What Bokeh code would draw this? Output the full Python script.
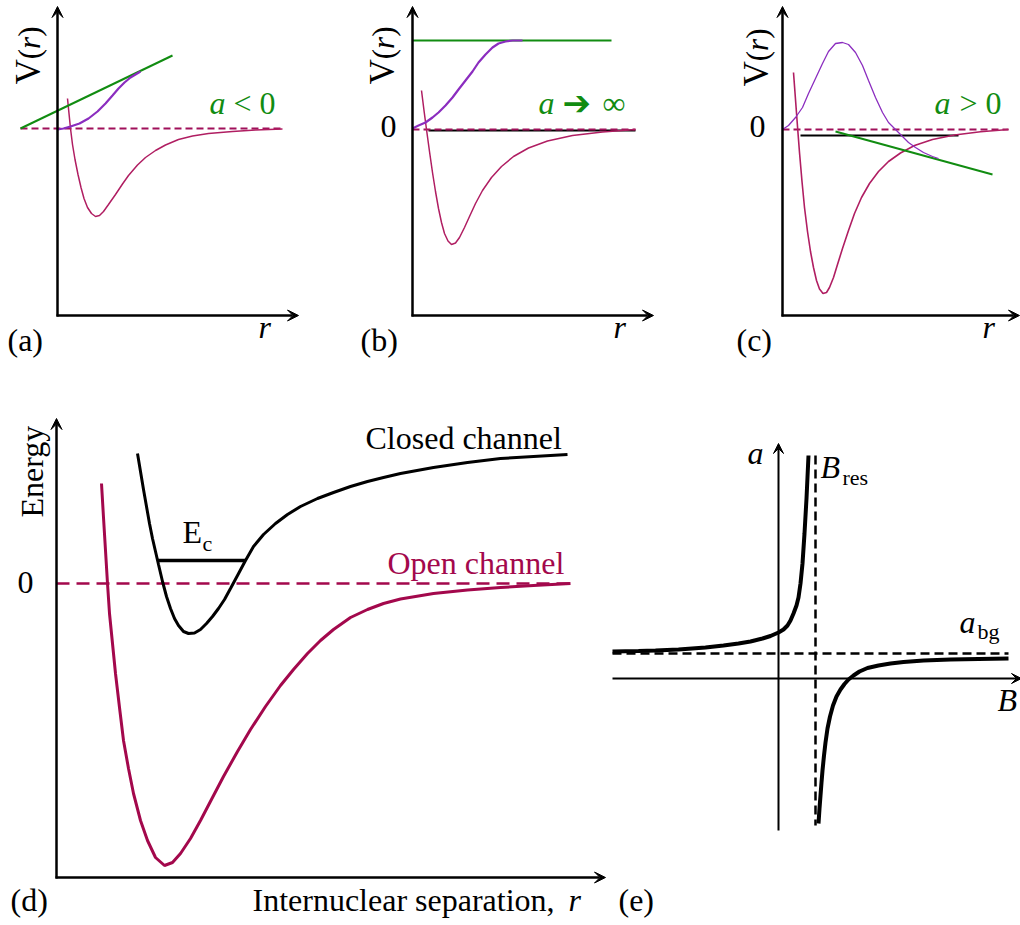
import math
from bokeh.plotting import figure
from bokeh.models import Range1d, Arrow, VeeHead, Label
from bokeh.layouts import column, row
from bokeh.embed import file_html
from bokeh.resources import INLINE

# ---------------- data ----------------
# Panels (a)-(c): r measured from the V axis, V measured from the threshold 0
# (a)  a < 0
a_open_r = [10, 11.5, 13, 15, 17.5, 20.5, 23.5, 26.5, 30, 34, 38, 42, 46, 51, 58, 65, 71, 80, 88, 98, 108, 121, 135, 151, 175, 198, 225]
a_open_V = [30, 15, 0, -16, -31, -46, -59, -70, -79, -85, -88, -87, -83, -76, -66, -55.5, -47, -36.5, -29, -22, -16.5, -11, -7.5, -5, -3, -1.5, -0.5]
a_wave_r = [0, 6, 13, 22, 31, 40, 48, 55, 61, 67, 73, 78, 83]
a_wave_V = [-1, 0, 2, 5, 10, 17, 25, 33, 40, 46, 51, 54, 57]
a_tangent_r = [-37, 115]
a_tangent_V = [0, 73]
a_thresh_r = [-37, 225]
a_thresh_V = [0, 0]

# (b)  a -> infinity
b_open_r = [9, 11.5, 14, 17, 20, 23, 26, 29, 32, 35.5, 39, 43, 47, 52, 57, 63, 70, 79, 89, 101, 116, 135, 160, 190, 223]
b_open_V = [39, 19, 0, -22, -43, -62, -79, -93, -104, -111.5, -115, -113.5, -108, -98, -87, -74, -61, -48, -37, -27, -18.5, -11.5, -6, -2.5, 0]
b_wave_r = [0, 6, 13, 20, 26, 33, 40, 46, 53, 60, 66, 73, 80, 86, 93, 100, 110]
b_wave_V = [1, 4, 7, 12, 17, 24, 32, 40, 49, 58, 67, 75, 82, 86, 88, 89, 89]
b_tangent_r = [0, 199]
b_tangent_V = [89, 89]
b_bound_r = [16, 223]
b_bound_V = [-1, -1]
b_thresh_r = [0, 223]
b_thresh_V = [0, 0]

# (c)  a > 0
c_open_r = [11, 13, 15, 17, 19.5, 22, 25, 28, 31, 34, 37, 40.5, 44, 47, 51, 55, 60, 66, 72, 79, 87, 96, 106, 118, 132, 150, 172, 198, 226]
c_open_V = [57, 30, 3, -23, -52, -78, -102, -122, -138, -151, -159.5, -164, -163, -158, -148, -135, -119, -101, -84, -68, -54, -42, -32, -23.5, -16, -10, -5.5, -2.2, 0]
c_wave_r = [0, 6, 13, 20, 26, 33, 40, 46, 53, 60, 66, 73, 80, 86, 93, 100, 106, 113, 120, 126, 133, 141, 150, 156]
c_wave_V = [0, 4, 12, 22, 36, 51, 66, 78, 86, 87, 85, 77, 64, 49, 32, 17, 7, 0, -7, -13, -18, -23, -27, -29]
c_tangent_r = [53, 210]
c_tangent_V = [-2, -45]
c_bound_r = [18, 176]
c_bound_V = [-6, -6]
c_thresh_r = [0, 226]
c_thresh_V = [0, 0]

# (d)  two-channel picture (energy vs internuclear separation)
d_closed_r = [81, 84, 87, 90, 93, 96, 99, 102, 106, 110, 114, 118, 122, 127, 132, 138, 144, 150, 156, 162, 168,
              174, 181, 189, 197, 207, 219, 231, 244, 261, 277, 294, 311, 327, 344, 377, 411, 444, 477, 511]
d_closed_V = [130, 112, 94, 77, 60, 45, 32, 19, 2, -13, -25, -35, -42, -48, -50, -49.5, -46, -40, -33, -25, -16,
              -5, 8, 23, 37, 49, 60, 69, 77, 85, 91, 97, 102, 106, 110, 116, 121, 125, 127, 129]
d_open_r = [45, 47, 49, 51, 53, 56, 59, 63, 67, 72, 77, 84, 91, 99, 108, 116, 124, 134, 144, 156, 167, 181, 194,
            209, 224, 237, 251, 264, 277, 294, 311, 327, 344, 377, 411, 444, 477, 514]
d_open_V = [100, 66, 33, 0, -30, -60, -90, -124, -157, -185, -210, -237, -257, -274, -282, -279, -270, -255, -237,
            -214, -193, -168, -146, -123, -102, -86, -70, -57, -46, -34, -26, -20, -15.5, -10, -6.5, -4, -2, 0]
d_level_r = [101, 189]
d_level_V = [23, 23]
d_thresh_r = [0, 516]
d_thresh_V = [0, 0]

# (e)  scattering length a versus field B
e_left_B = [-166, -140, -123, -100, -73, -55, -40, -28, -16, -8, 0, 5, 9, 12, 15, 18, 20, 22, 24, 26, 28, 30]
e_left_a = [27, 27.5, 28, 29, 31, 33, 35, 37, 40, 42.5, 46, 49, 53, 58, 65, 73, 81, 95, 115, 145, 180, 223]
e_right_B = [40, 41, 42, 43, 44, 45.5, 47, 49, 51.5, 54.5, 58, 62, 66, 70, 75, 81, 89, 100, 112, 125, 145, 172, 200, 230]
e_right_a = [-145, -130, -117, -104, -92, -77, -64, -50, -38, -27, -18, -11, -5.5, -1, 3, 7, 10.5, 13, 15, 16.5, 18, 19, 19.5, 20]
e_res_B = [37, 37]
e_res_a = [223, -147]
e_bg_B = [-166, 230]
e_bg_a = [25, 25]

# ---------------- styling ----------------
SERIF = "Liberation Serif"
FS = 32
K_BASE = 0.34          # baseline correction (fraction of font size)
MORSE_C = "#b01e62"
DASH_C = "#a0105a"
D_RED = "#a3084c"
GREEN = "#118c11"
PURPLE = "#8b2dbf"

ORG_A = (57, 128)
ORG_B = (412, 129)
ORG_C = (782, 129)
ORG_D = (56, 583)
ORG_E = (778, 678)


def make_panel(left, top, w, h, org):
    ox, oy = org
    p = figure(width=w, height=h,
               x_range=Range1d(left - ox, left + w - ox),
               y_range=Range1d(oy - (top + h), oy - top),
               output_backend="svg", toolbar_location=None,
               x_axis_location=None, y_axis_location=None,
               min_border=0, outline_line_color=None)
    p.grid.visible = False
    p.background_fill_color = "white"
    p.border_fill_color = "white"
    return p


def label(p, org, x, y, text, size=FS, style="normal", color="black", angle=0.0, font=SERIF):
    ox, oy = org
    if angle == 0.0:
        y = y - K_BASE * size
    else:
        x = x - K_BASE * size
    p.add_layout(Label(x=x - ox, y=oy - y, text=text, text_font=font,
                       text_font_size=f"{size}px", text_font_style=style,
                       text_color=color, angle=angle,
                       text_align="left", text_baseline="alphabetic"))


def vr_label(p, org, xb, ystart):
    parts = [("V", "normal", 35, 722), ("(", "normal", 31, 333), ("r", "italic", 31, 389), (")", "normal", 31, 333)]
    y = ystart
    for t, st, sz, adv in parts:
        label(p, org, xb, y, t, size=sz, style=st, angle=math.pi / 2)
        y -= adv * sz / 1000


def axis_arrow(p, org, x1, y1, x2, y2, lw=2.5, size=11):
    ox, oy = org
    p.add_layout(Arrow(x_start=x1 - ox, y_start=oy - y1, x_end=x2 - ox, y_end=oy - y2,
                       line_width=lw, line_color="black",
                       end=VeeHead(size=size, fill_color="black", line_color="black", line_width=1)))


# ---------------- panel (a) ----------------
pa = make_panel(0, 0, 345, 380, ORG_A)
pa.line(a_thresh_r, a_thresh_V, line_color=DASH_C, line_width=2, line_dash="7 4")
pa.line(a_open_r, a_open_V, line_color=MORSE_C, line_width=1.5)
pa.line(a_tangent_r, a_tangent_V, line_color=GREEN, line_width=2)
pa.line(a_wave_r, a_wave_V, line_color=PURPLE, line_width=2.2)
axis_arrow(pa, ORG_A, 57, 316, 57, 6)
axis_arrow(pa, ORG_A, 56, 315, 298, 315)
vr_label(pa, ORG_A, 40, 84)
label(pa, ORG_A, 7, 350, "(a)")
label(pa, ORG_A, 258, 337, "r", style="italic")
label(pa, ORG_A, 209, 113, "a", style="italic", color=GREEN)
label(pa, ORG_A, 233, 113, "< 0", color=GREEN)

# ---------------- panel (b) ----------------
pb = make_panel(345, 0, 345, 380, ORG_B)
pb.line(b_bound_r, b_bound_V, line_color="black", line_width=2)
pb.line(b_thresh_r, b_thresh_V, line_color=DASH_C, line_width=2, line_dash="7 4")
pb.line(b_open_r, b_open_V, line_color=MORSE_C, line_width=1.5)
pb.line(b_tangent_r, b_tangent_V, line_color=GREEN, line_width=2)
pb.line(b_wave_r, b_wave_V, line_color=PURPLE, line_width=2.2)
axis_arrow(pb, ORG_B, 412, 316, 412, 6)
axis_arrow(pb, ORG_B, 411, 315, 653, 315)
vr_label(pb, ORG_B, 394, 84)
label(pb, ORG_B, 380, 137, "0")
label(pb, ORG_B, 360, 350, "(b)")
label(pb, ORG_B, 613, 337, "r", style="italic")
label(pb, ORG_B, 538, 113, "a", style="italic", color=GREEN)
label(pb, ORG_B, 562, 114, "\u2794", color=GREEN, font="DejaVu Sans", size=34)
label(pb, ORG_B, 602, 113, "\u221e", color=GREEN)

# ---------------- panel (c) ----------------
pc = make_panel(690, 0, 330, 380, ORG_C)
pc.line(c_bound_r, c_bound_V, line_color="black", line_width=2)
pc.line(c_thresh_r, c_thresh_V, line_color=DASH_C, line_width=2, line_dash="7 4")
pc.line(c_open_r, c_open_V, line_color=MORSE_C, line_width=1.6)
pc.line(c_tangent_r, c_tangent_V, line_color=GREEN, line_width=2)
pc.line(c_wave_r, c_wave_V, line_color=PURPLE, line_width=1.3)
axis_arrow(pc, ORG_C, 782, 316, 782, 6)
axis_arrow(pc, ORG_C, 781, 315, 1019, 315)
vr_label(pc, ORG_C, 768, 86)
label(pc, ORG_C, 749, 137, "0")
label(pc, ORG_C, 736, 350, "(c)")
label(pc, ORG_C, 982, 337, "r", style="italic")
label(pc, ORG_C, 934, 113, "a", style="italic", color=GREEN)
label(pc, ORG_C, 959, 113, "> 0", color=GREEN)

# ---------------- panel (d) ----------------
pd = make_panel(0, 380, 608, 545, ORG_D)
pd.line(d_thresh_r, d_thresh_V, line_color=D_RED, line_width=2.5, line_dash="13 7")
pd.line(d_open_r, d_open_V, line_color=D_RED, line_width=3)
pd.line(d_closed_r, d_closed_V, line_color="black", line_width=3)
pd.line(d_level_r, d_level_V, line_color="black", line_width=3.5)
axis_arrow(pd, ORG_D, 56, 878, 56, 418)
axis_arrow(pd, ORG_D, 55, 877, 605, 877)
label(pd, ORG_D, 42, 517, "Energy", angle=math.pi / 2)
label(pd, ORG_D, 17, 593, "0")
label(pd, ORG_D, 182, 542, "E")
label(pd, ORG_D, 202, 550, "c", size=22)
label(pd, ORG_D, 365, 448, "Closed channel")
label(pd, ORG_D, 387, 573, "Open channel", color=D_RED)
label(pd, ORG_D, 10, 910, "(d)")
label(pd, ORG_D, 252, 910, "Internuclear separation,")
label(pd, ORG_D, 568, 910, "r", style="italic")

# ---------------- panel (e) ----------------
pe = make_panel(608, 380, 412, 545, ORG_E)
pe.line(e_bg_B, e_bg_a, line_color="black", line_width=2.5, line_dash="9 5")
pe.line(e_res_B, e_res_a, line_color="black", line_width=2.5, line_dash="9 5")
pe.line(e_left_B, e_left_a, line_color="black", line_width=4)
pe.line(e_right_B, e_right_a, line_color="black", line_width=4)
axis_arrow(pe, ORG_E, 778, 830, 778, 443, lw=2, size=10)
axis_arrow(pe, ORG_E, 612, 678, 1021, 678, lw=2, size=10)
label(pe, ORG_E, 618, 910, "(e)")
label(pe, ORG_E, 747, 463, "a", style="italic")
label(pe, ORG_E, 820, 477, "B", style="italic")
label(pe, ORG_E, 842, 484, "res", size=22)
label(pe, ORG_E, 959, 632, "a", style="italic")
label(pe, ORG_E, 977, 638, "bg", size=22)
label(pe, ORG_E, 997, 710, "B", style="italic")

layout = column(row(pa, pb, pc), row(pd, pe))
open("out.html", "w").write(file_html(layout, INLINE))
